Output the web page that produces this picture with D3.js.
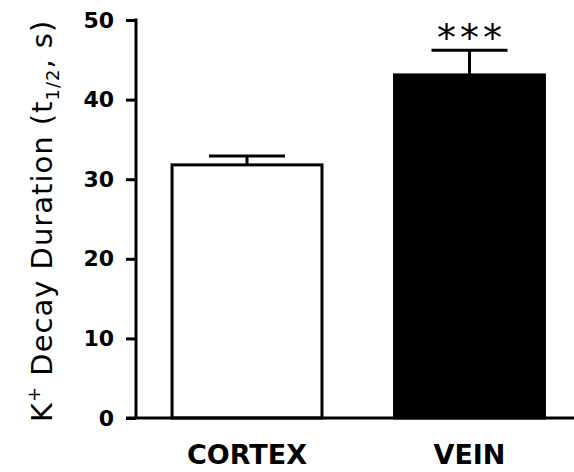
<!DOCTYPE html>
<html lang="en">
<head>
<meta charset="utf-8">
<title>K+ decay</title>
<script src="https://cdnjs.cloudflare.com/ajax/libs/d3/7.8.5/d3.min.js"></script>
<style>
	body { margin:0; background:#fff; }
	.tick text { font-family:"DejaVu Sans", sans-serif; font-weight:bold; font-size:22px; fill:#000; }
	.catlabel { font-family:"DejaVu Sans", sans-serif; font-weight:bold; font-size:27px; }
	.ylabel { font-family:"DejaVu Sans", sans-serif; font-size:29px; letter-spacing:1px; }
</style>
</head>
<body>
<div id="chart"></div>
<script>
var categories = ["CORTEX", "VEIN"];
var means = [31.8, 43.1];
var errors = [1.1, 3.1];
var fills = ["#fff", "#000"];
var sig = ["", "***"];
var yTicks = [0, 10, 20, 30, 40, 50];

var W = 574, H = 472;
var svg = d3.select("#chart").append("svg").attr("width", W).attr("height", H);

var y = d3.scaleLinear().domain([0, 50]).range([418, 20]);
var x = d3.scaleBand().domain(categories).range([136, 580.5]).paddingInner(0.326).paddingOuter(0.162);

// y axis
var yAxis = d3.axisLeft(y).tickValues(yTicks).tickSize(10).tickPadding(12);
var gy = svg.append("g").attr("transform", "translate(136,0)").call(yAxis);
gy.select(".domain").remove();
gy.selectAll(".tick line").attr("stroke", "#000").attr("stroke-width", 3);
svg.append("line").attr("x1", 136).attr("x2", 136).attr("y1", y(50) - 1.5).attr("y2", y(0))
	.attr("stroke", "#000").attr("stroke-width", 3);

// bars
svg.selectAll(".bar").data(categories).enter().append("rect")
	.attr("class", "bar")
	.attr("x", function(d) { return x(d); })
	.attr("y", function(d, i) { return y(means[i]); })
	.attr("width", x.bandwidth())
	.attr("height", function(d, i) { return y(0) - y(means[i]); })
	.attr("fill", function(d, i) { return fills[i]; })
	.attr("stroke", "#000").attr("stroke-width", 3);

// error bars
var cap = 76;
svg.selectAll(".err").data(categories).enter().append("line")
	.attr("x1", function(d) { return x(d) + x.bandwidth() / 2; })
	.attr("x2", function(d) { return x(d) + x.bandwidth() / 2; })
	.attr("y1", function(d, i) { return y(means[i]); })
	.attr("y2", function(d, i) { return y(means[i] + errors[i]); })
	.attr("stroke", "#000").attr("stroke-width", 3);
svg.selectAll(".cap").data(categories).enter().append("line")
	.attr("x1", function(d) { return x(d) + x.bandwidth() / 2 - cap / 2; })
	.attr("x2", function(d) { return x(d) + x.bandwidth() / 2 + cap / 2; })
	.attr("y1", function(d, i) { return y(means[i] + errors[i]); })
	.attr("y2", function(d, i) { return y(means[i] + errors[i]); })
	.attr("stroke", "#000").attr("stroke-width", 3);

// significance
svg.selectAll(".sig").data(categories).enter().append("text")
	.attr("x", function(d) { return x(d) + x.bandwidth() / 2 + 2; })
	.attr("y", function(d, i) { return y(means[i] + errors[i]) + 1; })
	.attr("text-anchor", "middle")
	.attr("font-family", "DejaVu Sans, sans-serif")
	.attr("font-size", 38)
	.attr("letter-spacing", 4)
	.text(function(d, i) { return sig[i]; });

// x axis baseline
svg.append("line").attr("x1", 126).attr("x2", W).attr("y1", y(0)).attr("y2", y(0))
	.attr("stroke", "#000").attr("stroke-width", 3);

// category labels
svg.selectAll(".catlabel").data(categories).enter().append("text")
	.attr("class", "catlabel")
	.attr("x", function(d) { return x(d) + x.bandwidth() / 2; })
	.attr("y", 464)
	.attr("text-anchor", "middle")
	.text(function(d) { return d; });

// y label
var yl = svg.append("text").attr("class", "ylabel")
	.attr("transform", "translate(52,422) rotate(-90)")
	.attr("text-anchor", "start");
yl.append("tspan").text("K");
yl.append("tspan").attr("dy", -12).attr("font-size", 18).text("+");
yl.append("tspan").attr("dy", 12).text(" Decay Duration (t");
yl.append("tspan").attr("dy", 7).attr("font-size", 18).text("1/2");
yl.append("tspan").attr("dy", -7).text(", s)");
</script>
</body>
</html>
